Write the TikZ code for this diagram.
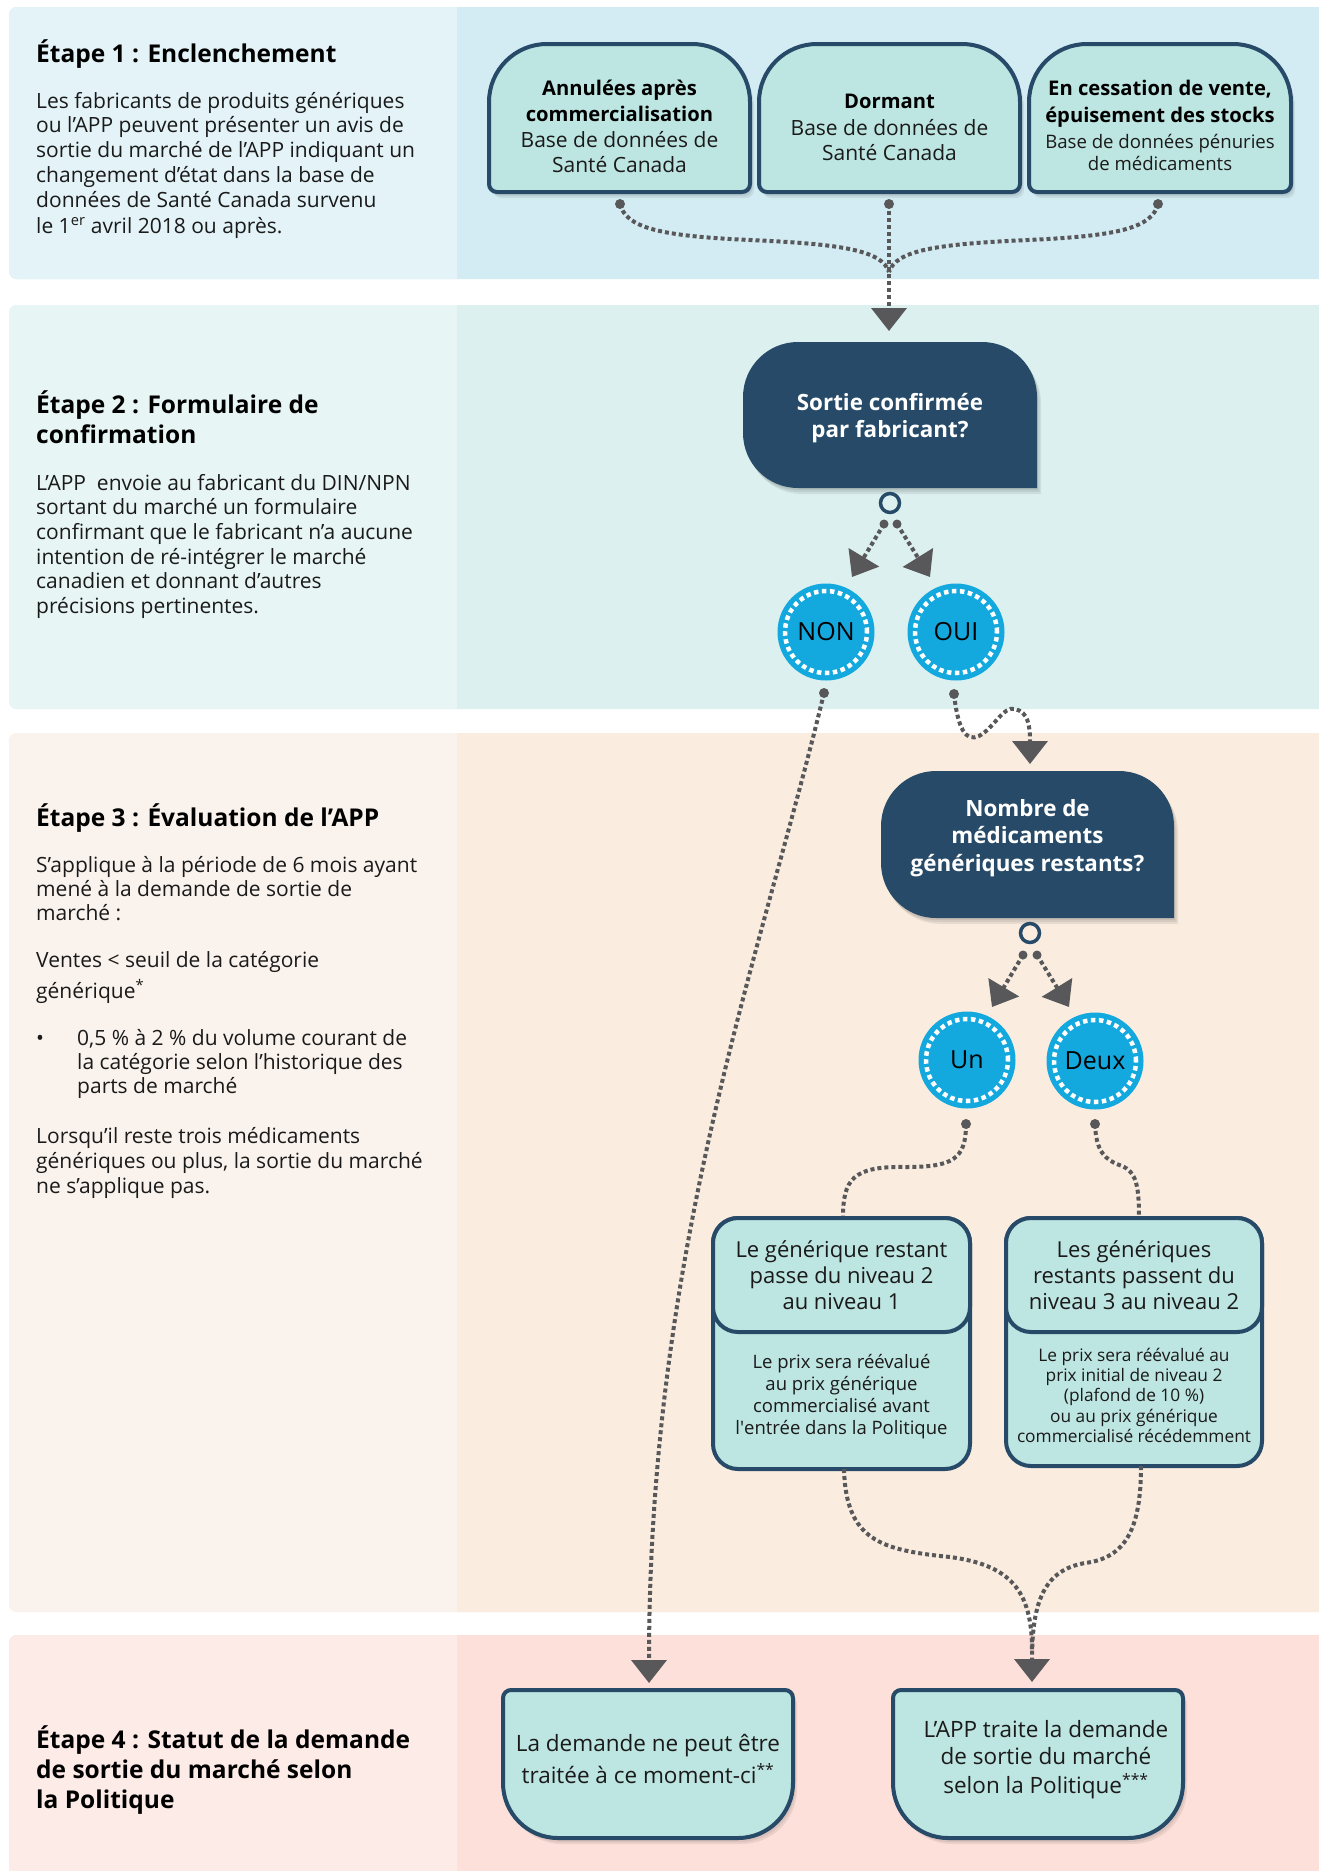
\documentclass[tikz,border=0pt]{standalone}
\usepackage{fontspec}
\setmainfont{Open Sans}
\usetikzlibrary{arrows.meta}
\definecolor{bAL}{HTML}{E3F3F8}
\definecolor{bAR}{HTML}{D3ECF3}
\definecolor{bBL}{HTML}{E8F5F5}
\definecolor{bBR}{HTML}{DCF0EF}
\definecolor{bCL}{HTML}{FAF3ED}
\definecolor{bCR}{HTML}{FAEDE0}
\definecolor{bDL}{HTML}{FDEBE7}
\definecolor{bDR}{HTML}{FDE0DA}
\definecolor{tealc}{HTML}{BDE5E1}
\definecolor{navy}{HTML}{264A67}
\definecolor{grayc}{HTML}{58585A}
\definecolor{cyanc}{HTML}{13A8DE}
\definecolor{txt}{HTML}{1A1A1A}
% x1 y1 x2 y2 rTL rTR rBR rBL
\newcommand\shapepath[8]{({#1+#5},#2) -- ({#3-#6},#2) .. controls ({#3-0.4477*#6},#2) and (#3,{#2+0.4477*#6}) .. (#3,{#2+#6})
 -- (#3,{#4-#7}) .. controls (#3,{#4-0.4477*#7}) and ({#3-0.4477*#7},#4) .. ({#3-#7},#4)
 -- ({#1+#8},#4) .. controls ({#1+0.4477*#8},#4) and (#1,{#4-0.4477*#8}) .. (#1,{#4-#8})
 -- (#1,{#2+#5}) .. controls (#1,{#2+0.4477*#5}) and ({#1+0.4477*#5},#2) .. ({#1+#5},#2) -- cycle}
\newcommand\softshadow[8]{%
 \fill[black,opacity=.07,xshift=1pt,yshift=-2pt] \shapepath{#1}{#2}{#3}{#4}{#5}{#6}{#7}{#8};
 \fill[black,opacity=.07,xshift=2.5pt,yshift=-4pt] \shapepath{#1}{#2}{#3}{#4}{#5}{#6}{#7}{#8};
 \fill[black,opacity=.07,xshift=4pt,yshift=-6pt] \shapepath{#1}{#2}{#3}{#4}{#5}{#6}{#7}{#8};}
\begin{document}
\begin{tikzpicture}[x=1pt,y=-1pt,
  conn/.style={draw=grayc, line width=4pt, dash pattern=on 4pt off 3pt},
  arr/.style={-{Triangle[width=35pt,length=23pt]}},
  dotc/.style={circle, fill=grayc, inner sep=0pt, minimum size=10pt},
  ring/.style={circle, draw=navy, line width=3.5pt, inner sep=0pt, minimum size=19pt},
  bub/.style={circle, fill=cyanc, inner sep=0pt, minimum size=97pt, font=\fontsize{25}{30}\selectfont, text=black},
  boxs/.style={fill=tealc, draw=navy, line width=4pt},
  body/.style={anchor=base west, inner sep=0pt, font=\fontsize{21}{25}\selectfont, text=txt},
  head/.style={anchor=base west, inner sep=0pt, font=\bfseries\fontsize{24.5}{28}\selectfont, text=black},
  ctr/.style={anchor=base, inner sep=0pt, text=txt, font=\fontsize{21}{25}\selectfont},
  ctrb/.style={anchor=base, inner sep=0pt, text=black, font=\bfseries\fontsize{20.2}{24}\selectfont},
  wht/.style={anchor=base, inner sep=0pt, text=white, font=\bfseries\fontsize{22.4}{26}\selectfont}]
\useasboundingbox (0,0) rectangle (1319,1871);
\fill[white] (0,0) rectangle (1319,1871);
% bands
\fill[bAR] \shapepath{9}{7}{1319}{279}{8}{0}{0}{8};
\fill[bAL] \shapepath{9}{7}{457}{279}{8}{0}{0}{8};
\fill[bBR] \shapepath{9}{305}{1319}{709}{8}{0}{0}{8};
\fill[bBL] \shapepath{9}{305}{457}{709}{8}{0}{0}{8};
\fill[bCR] \shapepath{9}{733}{1319}{1612}{8}{0}{0}{8};
\fill[bCL] \shapepath{9}{733}{457}{1612}{8}{0}{0}{8};
\fill[bDR] \shapepath{9}{1635}{1319}{1880}{8}{0}{0}{8};
\fill[bDL] \shapepath{9}{1635}{457}{1880}{8}{0}{0}{8};

% ---------- left texts
\node[head] (h1) at (36,62) {Étape 1 : Enclenchement};
\foreach \t [count=\i from 0] in {Les fabricants de produits génériques,ou l’APP peuvent présenter un avis de,sortie du marché de l’APP indiquant un,changement d’état dans la base de,données de Santé Canada survenu}
  \node[body] (s1l\i) at (36,{108+24.8*\i}) {\t};
\node[body] (s1l5) at (36,233) {le 1\textsuperscript{er} avril 2018 ou après.};

\node[head] (h2a) at (36,413) {Étape 2 : Formulaire de};
\node[head] (h2b) at (36,443) {confirmation};
\foreach \t [count=\i from 0] in {L’APP\ \ envoie au fabricant du DIN/NPN,sortant du marché un formulaire,confirmant que le fabricant n’a aucune,intention de ré-intégrer le marché,canadien et donnant d’autres,précisions pertinentes.}
  \node[body] (s2l\i) at (36,{490+24.7*\i}) {\t};

\node[head] (h3) at (36,826) {Étape 3 : Évaluation de l’APP};
\node[body] (s3a) at (36,872) {S’applique à la période de 6 mois ayant};
\node[body] (s3b) at (36,896) {mené à la demande de sortie de};
\node[body] (s3c) at (36,920) {marché :};
\node[body] (s3d) at (36,967) {Ventes < seuil de la catégorie};
\node[body] (s3e) at (36,998) {générique\textsuperscript{*}};
\node[body] (s3bul) at (36,1045) {•};
\node[body] (s3f) at (77,1045) {0,5 \% à 2 \% du volume courant de};
\node[body] (s3g) at (77,1069) {la catégorie selon l’historique des};
\node[body] (s3h) at (77,1093) {parts de marché};
\node[body] (s3i) at (36,1143) {Lorsqu’il reste trois médicaments};
\node[body] (s3j) at (36,1168) {génériques ou plus, la sortie du marché};
\node[body] (s3k) at (36,1193) {ne s’applique pas.};

\node[head] (h4a) at (36,1748) {Étape 4 : Statut de la demande};
\node[head] (h4b) at (36,1778) {de sortie du marché selon};
\node[head] (h4c) at (36,1808) {la Politique};

% ---------- top boxes
\softshadow{489}{44}{750}{192}{58}{58}{8}{8}
\softshadow{759}{44}{1020}{192}{58}{58}{8}{8}
\softshadow{1029}{44}{1291}{192}{58}{58}{8}{8}
\path[boxs] \shapepath{489}{44}{750}{192}{58}{58}{8}{8};
\path[boxs] \shapepath{759}{44}{1020}{192}{58}{58}{8}{8};
\path[boxs] \shapepath{1029}{44}{1291}{192}{58}{58}{8}{8};
\node[ctrb] (a1) at (619.5,95) {Annulées après};
\node[ctrb] (a2) at (619.5,121) {commercialisation};
\node[ctr] (a3) at (619.5,147) {Base de données de};
\node[ctr] (a4) at (619.5,172) {Santé Canada};
\node[ctrb] (b1) at (889.5,108) {Dormant};
\node[ctr] (b2) at (889.5,135) {Base de données de};
\node[ctr] (b3) at (889.5,160) {Santé Canada};
\node[ctrb] (c1) at (1160,95) {En cessation de vente,};
\node[ctrb] (c2) at (1160,122) {épuisement des stocks};
\node[ctr,font=\fontsize{18.6}{22}\selectfont] (c3) at (1160,148) {Base de données pénuries};
\node[ctr,font=\fontsize{18.6}{22}\selectfont] (c4) at (1160,170) {de médicaments};

\node[dotc] (dA) at (620,204) {};
\node[dotc] (dB) at (889,204) {};
\node[dotc] (dC) at (1158,204) {};
\coordinate (m1) at (889,272);
\coordinate (t1) at (889,331);
\draw[conn] (dA.center) .. controls (626,228) and (660,236) .. (750,240) .. controls (840,244) and (882,250) .. (m1);
\draw[conn] (dC.center) .. controls (1152,228) and (1118,236) .. (1028,240) .. controls (938,244) and (896,250) .. (m1);
\draw[conn,arr] (dB.center) -- (t1);

% ---------- dark box 1
\softshadow{743}{342}{1037}{488}{55}{55}{0}{55}
\fill[navy] \shapepath{743}{342}{1037}{488}{55}{55}{0}{55};
\node[wht] (q1a) at (890,410) {Sortie confirmée};
\node[wht] (q1b) at (890,437) {par fabricant?};
\node[ring,fill=bBR] (r1) at (890,503) {};
\node[dotc,minimum size=9pt] (r1l) at (884,524) {};
\node[dotc,minimum size=9pt] (r1r) at (897,524) {};
\coordinate (t2l) at (852,577);
\coordinate (t2r) at (930,577);
\draw[conn,arr] (r1l.center) -- (t2l);
\draw[conn,arr] (r1r.center) -- (t2r);
\node[bub] (non) at (826,632) {NON};
\node[bub] (oui) at (956,632) {OUI};
\draw[white,line width=4.5pt,dash pattern=on 4.5pt off 3.5pt] (non) circle[radius=41pt];
\draw[white,line width=4.5pt,dash pattern=on 4.5pt off 3.5pt] (oui) circle[radius=41pt];
\node[dotc] (dnon) at (824,693) {};
\node[dotc] (doui) at (954,694) {};

% ---------- dark box 2
\softshadow{881}{771}{1174}{918}{55}{55}{0}{55}
\fill[navy] \shapepath{881}{771}{1174}{918}{55}{55}{0}{55};
\node[wht] (q2a) at (1027.5,816) {Nombre de};
\node[wht] (q2b) at (1027.5,843) {médicaments};
\node[wht] (q2c) at (1027.5,871) {génériques restants?};
\coordinate (t3) at (1030,764);
\draw[conn,arr] (doui.center) .. controls (958,730) and (966,742) .. (979,736) .. controls (994,728) and (1003,706) .. (1015,709) .. controls (1028,712) and (1030,725) .. (t3);
\node[ring,fill=bCR] (r2) at (1030,933) {};
\node[dotc,minimum size=9pt] (r2l) at (1023,955) {};
\node[dotc,minimum size=9pt] (r2r) at (1037,955) {};
\coordinate (t4l) at (992,1007);
\coordinate (t4r) at (1069,1007);
\draw[conn,arr] (r2l.center) -- (t4l);
\draw[conn,arr] (r2r.center) -- (t4r);
\node[bub] (un) at (967,1060) {Un};
\node[bub] (deux) at (1095,1061) {Deux};
\draw[white,line width=4.5pt,dash pattern=on 4.5pt off 3.5pt] (un) circle[radius=41pt];
\draw[white,line width=4.5pt,dash pattern=on 4.5pt off 3.5pt] (deux) circle[radius=41pt];
\node[dotc] (dun) at (966,1124) {};
\node[dotc] (ddeux) at (1095,1124) {};

% ---------- result boxes
\coordinate (rLtop) at (843,1218);
\coordinate (rRtop) at (1139,1218);
\coordinate (rLbot) at (844,1469);
\coordinate (rRbot) at (1141,1466);
\draw[conn] (dun.center) .. controls (966,1160) and (952,1167) .. (905,1167) .. controls (852,1166) and (843,1180) .. (rLtop);
\draw[conn] (ddeux.center) .. controls (1096,1152) and (1105,1160) .. (1122,1166) .. controls (1136,1172) and (1139,1185) .. (rRtop);
\path[boxs] \shapepath{713}{1218}{970}{1469}{25}{25}{25}{25};
\path[boxs] \shapepath{713}{1218}{970}{1332}{25}{25}{25}{25};
\path[boxs] \shapepath{1006}{1218}{1262}{1466}{25}{25}{25}{25};
\path[boxs] \shapepath{1006}{1218}{1262}{1332}{25}{25}{25}{25};
\begin{scope}[every node/.style={ctr,font=\fontsize{22}{26}\selectfont}]
\node (e1) at (841.5,1257) {Le générique restant};
\node (e2) at (841.5,1283) {passe du niveau 2};
\node (e3) at (841.5,1309) {au niveau 1};
\node (f1) at (1134,1257) {Les génériques};
\node (f2) at (1134,1283) {restants passent du};
\node (f3) at (1134,1309) {niveau 3 au niveau 2};
\end{scope}
\begin{scope}[every node/.style={ctr,font=\fontsize{18.5}{22}\selectfont}]
\node (g1) at (841.5,1368) {Le prix sera réévalué};
\node (g2) at (841.5,1390) {au prix générique};
\node (g3) at (841.5,1412) {commercialisé avant};
\node (g4) at (841.5,1434) {l\textquotesingle entrée dans la Politique};
\end{scope}
\begin{scope}[every node/.style={ctr,font=\fontsize{17.3}{21}\selectfont}]
\node (k1) at (1134,1361) {Le prix sera réévalué au};
\node (k2) at (1134,1381) {prix initial de niveau 2};
\node (k3) at (1134,1401) {(plafond de 10 \%)};
\node (k4) at (1134,1422) {ou au prix générique};
\node (k5) at (1134,1442) {commercialisé récédemment};
\end{scope}

% ---------- bottom connectors
\coordinate (tL) at (649,1683);
\coordinate (tR) at (1032,1682);
\draw[conn,arr] (dnon.center) .. controls (760,960) and (649,1250) .. (tL);
\draw[conn] (rLbot) .. controls (846,1540) and (880,1550) .. (950,1557) .. controls (1010,1565) and (1032,1590) .. (1032,1650);
\draw[conn,arr] (rRbot) .. controls (1141,1530) and (1125,1558) .. (1085,1563) .. controls (1045,1570) and (1032,1600) .. (tR);

% ---------- step 4 boxes
\softshadow{503}{1690}{793}{1838}{8}{8}{55}{55}
\softshadow{893}{1690}{1183}{1838}{8}{8}{55}{55}
\path[boxs] \shapepath{503}{1690}{793}{1838}{8}{8}{55}{55};
\path[boxs] \shapepath{893}{1690}{1183}{1838}{8}{8}{55}{55};
\begin{scope}[every node/.style={ctr,font=\fontsize{22.5}{26}\selectfont}]
\node (n1) at (648,1751) {La demande ne peut être};
\node (n2) at (648,1783) {traitée à ce moment-ci\textsuperscript{**}};
\node (p1) at (1046,1737) {L’APP traite la demande};
\node (p2) at (1046,1764) {de sortie du marché};
\node (p3) at (1046,1793) {selon la Politique\textsuperscript{***}};
\end{scope}
\end{tikzpicture}
\end{document}
